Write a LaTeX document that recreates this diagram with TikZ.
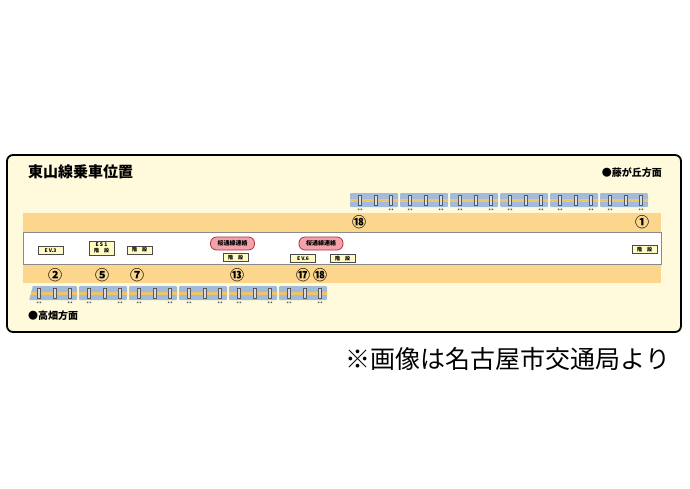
\documentclass[tikz,border=0pt]{standalone}
\usepackage{fontspec}
\newfontfamily\jp{Noto Sans CJK JP}
\usetikzlibrary{positioning}

\definecolor{panel}{HTML}{FFFADC}
\definecolor{stripe}{HTML}{FCD68C}
\definecolor{platline}{HTML}{8A8A8A}
\definecolor{carblue}{HTML}{A3BBDA}
\definecolor{carstripe}{HTML}{F0C468}
\definecolor{doorline}{HTML}{5A5A5A}
\definecolor{tagfill}{HTML}{FFFBC2}
\definecolor{tagline}{HTML}{4A4A4A}
\definecolor{linkfill}{HTML}{F2A2AA}
\definecolor{linkline}{HTML}{B0303E}

\tikzset{
  car/.pic={
    \fill[carblue, rounded corners=1pt] (0,0) rectangle (48,14);
    \fill[carstripe] (0,6) rectangle (48,8.5);
    \foreach \d in {10,26,41}
      \draw[doorline, line width=0.7pt, fill=carblue!50!white] (\d-1.5,2) rectangle (\d+1.5,12);
    \foreach \d in {10,41}
      \fill[doorline] (\d-2.2,15.5) rectangle (\d-0.6,17) (\d+0.6,15.5) rectangle (\d+2.2,17);
  }
}

\begin{document}
\begin{tikzpicture}[x=1pt, y=-1pt, font=\jp,
    tag/.style={draw=tagline, fill=tagfill, line width=0.6pt, inner sep=0.6pt,
      minimum width=25pt, minimum height=8pt, font=\jp\bfseries\fontsize{5}{5.5}\selectfont},
    link/.style={draw=linkline, fill=linkfill, rounded corners=6pt, line width=0.8pt,
      minimum width=44pt, minimum height=13pt, inner sep=1pt, font=\jp\bfseries\fontsize{6}{7}\selectfont},
    num/.style={font=\jp\bfseries\fontsize{14}{14}\selectfont, inner sep=0pt},
    dir/.style={font=\jp\bfseries\fontsize{10}{10}\selectfont, inner sep=0pt}]

    \useasboundingbox[fill=white] (0,0) rectangle (690,488);

    % panel and platform
    \draw[line width=1.8pt, rounded corners=6pt, fill=panel] (7,155) rectangle (681,332);
    \fill[stripe] (23,213) rectangle (661,232);
    \fill[stripe] (23,264) rectangle (661,283);
    \draw[platline, fill=white, line width=0.8pt] (23,232) rectangle (661,264);

    \node[font=\jp\bfseries\fontsize{15}{15}\selectfont, anchor=west, inner sep=0pt] (title) at (28,172) {東山線乗車位置};
    \node[dir, anchor=east] (fuji) at (662,173) {●藤が丘方面};
    \node[dir, anchor=west] (taka) at (28,316) {●高畑方面};

    % trains
    \foreach \cx in {350,400,...,600} \pic at (\cx,193) {car};
    \fill[panel] (652,192) -- (647,192) -- (652,207) -- cycle;
    \foreach \cx in {29,79,...,279} \pic at (\cx,286) {car};
    \fill[panel] (29,285) -- (33,285) -- (29,300) -- cycle;

    % car numbers
    \node[num] (t18) at (359,222) {⑱};
    \node[num] (t1) at (642,222) {①};
    \foreach \g/\nm/\cx in {②/b2/55, ⑤/b5/102, ⑦/b7/137, ⑬/b13/237, ⑰/b17/303, ⑱/b18/320}
      \node[num] (\nm) at (\cx,275) {\g};

    % facilities
    \node[tag] (ev3) at (50.5,250.5) {E V.3};
    \node[tag, minimum height=14pt, align=center] (es1) at (101.5,248) {E S 1\\階\quad 段};
    \node[tag] (kai7) at (139.5,250) {階\quad 段};
    \node[link] (ren1) at (232.5,243.5) {桜通線連絡};
    \node[tag, below=3pt of ren1, xshift=3pt] (kai13) {階\quad 段};
    \node[link] (ren2) at (321,243.5) {桜通線連絡};
    \node[tag] (ev6) at (303,258.5) {E V.6};
    \node[tag, right=14pt of ev6] (kai18) {階\quad 段};
    \node[tag] (kai1) at (644.5,249.5) {階\quad 段};

    \node[font=\jp\fontsize{25}{25}\selectfont, inner sep=0pt] (credit) at (508,359) {※画像は名古屋市交通局より};
\end{tikzpicture}
\end{document}
